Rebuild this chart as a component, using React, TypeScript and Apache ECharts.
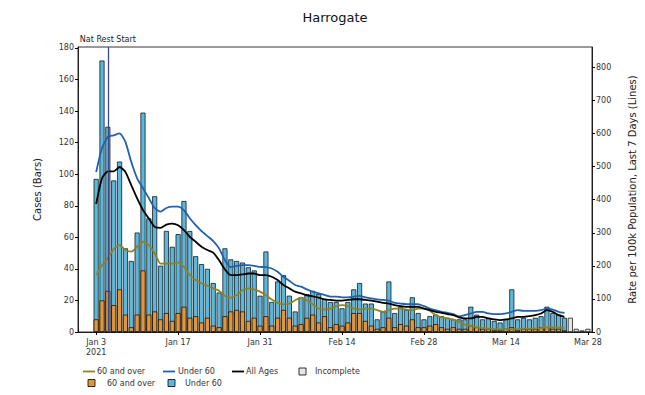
import React, { useEffect, useRef } from 'react';
import * as echarts from 'echarts';

// Day index 0 = 3 Jan 2021
const xTickDays = [0, 14, 28, 42, 56, 70, 84];
const xTickLabels = ['Jan 3\n2021', 'Jan 17', 'Jan 31', 'Feb 14', 'Feb 28', 'Mar 14', 'Mar 28'];
const yLeftTicks = [0, 20, 40, 60, 80, 100, 120, 140, 160, 180];
const yRightTicks = [0, 100, 200, 300, 400, 500, 600, 700, 800];

// Daily cases (bars), days 0..80
const over60Cases = [
  8, 20, 26, 17, 27, 11, 3, 11, 39, 11,
  13, 8, 12, 7, 12, 16, 9, 10, 6, 9,
  4, 3, 10, 13, 14, 13, 7, 9, 4, 10,
  4, 9, 14, 9, 4, 5, 9, 11, 6, 10,
  3, 5, 4, 6, 12, 12, 7, 4, 2, 3,
  9, 3, 5, 4, 8, 3, 3, 4, 5, 3,
  2, 3, 2, 2, 4, 3, 2, 2, 1, 1,
  2, 3, 1, 2, 2, 2, 3, 3, 2, 2,
  1,
];
const under60Cases = [
  89, 152, 104, 79, 81, 42, 42, 52, 100, 61,
  73, 34, 52, 47, 50, 67, 55, 38, 37, 31,
  27, 22, 43, 33, 31, 31, 34, 30, 19, 41,
  15, 23, 22, 14, 9, 17, 15, 15, 18, 11,
  16, 14, 11, 13, 15, 19, 11, 14, 6, 10,
  23, 9, 11, 10, 14, 9, 5, 6, 6, 7,
  7, 5, 6, 6, 12, 8, 6, 7, 6, 5,
  6, 24, 7, 7, 6, 7, 7, 13, 10, 9,
  8,
];
const incompleteStartDay = 81;
const incompleteCases = [9, 2, 1, 2];

// 7-day rates per 100k (lines), days 0..80
const over60Rate = [
  172, 202, 223, 251, 263, 248, 243, 258, 273, 263,
  238, 207, 207, 207, 210, 197, 172, 157, 147, 140,
  132, 125, 109, 104, 111, 126, 132, 129, 122, 111,
  98, 88, 84, 86, 96, 104, 96, 84, 71, 68,
  71, 78, 81, 78, 71, 68, 71, 71, 66, 61,
  66, 71, 71, 68, 66, 71, 71, 64, 51, 44,
  41, 38, 30, 22, 18, 15, 12, 10, 9, 8,
  8, 8, 9, 10, 10, 11, 12, 14, 14, 13,
  12,
];
const under60Rate = [
  484, 556, 590, 595, 601, 575, 514, 465, 435, 405,
  375, 364, 375, 379, 379, 368, 344, 323, 305, 290,
  275, 253, 217, 196, 200, 202, 202, 200, 197, 196,
  192, 182, 167, 155, 142, 137, 129, 122, 117, 112,
  107, 107, 105, 105, 107, 109, 105, 102, 99, 97,
  95, 88, 86, 84, 84, 84, 78, 71, 66, 61,
  58, 54, 47, 51, 56, 61, 61, 56, 54, 54,
  56, 61, 66, 64, 64, 64, 66, 71, 68, 61,
  58,
];
const allAgesRate = [
  387, 465, 486, 486, 499, 484, 444, 404, 369, 343,
  318, 315, 325, 328, 323, 308, 288, 273, 258, 248,
  240, 217, 189, 172, 172, 174, 177, 177, 172, 172,
  167, 157, 142, 132, 122, 117, 111, 108, 104, 99,
  97, 95, 95, 97, 99, 99, 97, 95, 92, 88,
  86, 81, 78, 76, 76, 76, 71, 66, 61, 58,
  54, 51, 44, 41, 41, 46, 46, 41, 38, 36,
  38, 41, 46, 46, 48, 51, 56, 66, 61, 51,
  46,
];
const natRestDay = 2;

const C_ORANGE = '#e1963c';
const C_BLUE_BAR = '#5bb8dc';
const C_OLIVE = '#8c8424';
const C_BLUE_LINE = '#2160ad';
const C_BLACK = '#000000';
const C_INCOMPLETE = '#e6e6e6';
const FONT = 'DejaVu Sans';

export default function App() {
  const ref = useRef<HTMLDivElement>(null);
  useEffect(() => {
    document.body.style.margin = '0';
    const chart = echarts.init(ref.current!, null, { renderer: 'svg' });
    const pairs = (arr: number[], start = 0) => arr.map((v, i) => [start + i, v]);
    // stacked top = over 60 + under 60 (drawn behind the over-60 segment)
    const totals = under60Cases.map((v, i) => v + over60Cases[i]);

    const legendY1 = 371.5;
    const legendY2 = 383;
    const txt = (x: number, y: number, text: string) => ({
      type: 'text', x, y,
      style: { text, fontFamily: FONT, fontSize: 8, fill: '#333', textVerticalAlign: 'middle', verticalAlign: 'middle' },
    });
    const seg = (x1: number, x2: number, y: number, color: string) => ({
      type: 'line', shape: { x1, y1: y, x2, y2: y }, style: { stroke: color, lineWidth: 1.8 },
    });
    const box = (x: number, y: number, color: string) => ({
      type: 'rect', shape: { x, y: y - 3.5, width: 7, height: 7 }, style: { fill: color, stroke: '#000', lineWidth: 0.8 },
    });

    chart.setOption({
      animation: false,
      textStyle: { fontFamily: FONT },
      grid: { left: 78, right: 53, top: 47, bottom: 63, show: true, borderColor: '#000', borderWidth: 0.8, backgroundColor: 'transparent' },
      xAxis: {
        type: 'value', min: -3.1, max: 84.7,
        splitLine: { show: false },
        axisLine: { onZero: false, lineStyle: { color: '#000', width: 0.8 } },
        axisTick: { customValues: xTickDays, length: 3, lineStyle: { color: '#000' } },
        axisLabel: {
          customValues: xTickDays, fontSize: 8, color: '#333', lineHeight: 10, margin: 5,
          formatter: (v: number) => { const i = xTickDays.indexOf(Math.round(v)); return i >= 0 ? xTickLabels[i] : ''; },
        },
      },
      yAxis: [
        {
          type: 'value', min: 0, max: 180.6,
          splitLine: { show: false },
          axisLine: { show: true, onZero: false, lineStyle: { color: '#000', width: 0.8 } },
          axisTick: { show: true, customValues: yLeftTicks, length: 3, lineStyle: { color: '#000' } },
          axisLabel: { customValues: yLeftTicks, fontSize: 8, color: '#333', margin: 4 },
          name: 'Cases (Bars)', nameLocation: 'middle', nameGap: 36,
          nameTextStyle: { fontSize: 10, color: '#222', fontFamily: FONT },
        },
        {
          type: 'value', min: 0, max: 862, position: 'right',
          splitLine: { show: false },
          axisLine: { show: true, onZero: false, lineStyle: { color: '#000', width: 0.8 } },
          axisTick: { show: true, customValues: yRightTicks, length: 3, lineStyle: { color: '#000' } },
          axisLabel: { customValues: yRightTicks, fontSize: 8, color: '#333', margin: 4 },
          name: 'Rate per 100k Population, Last 7 Days (Lines)', nameLocation: 'middle', nameGap: 35, nameRotate: 90,
          nameTextStyle: { fontSize: 10, color: '#222', fontFamily: FONT },
        },
      ],
      series: [
        {
          name: 'Under 60', type: 'bar', barWidth: 5, barGap: '-100%',
          data: pairs(totals),
          itemStyle: { color: C_BLUE_BAR, borderColor: '#000', borderWidth: 0.7 },
          markLine: {
            silent: true, symbol: ['none', 'none'],
            lineStyle: { color: '#3b4a86', width: 1.3, type: 'solid' },
            label: { show: true, position: 'end', formatter: 'Nat Rest Start', fontSize: 8, color: '#222', fontFamily: FONT, distance: 4 },
            data: [{ xAxis: natRestDay }],
          },
        },
        {
          name: '60 and over', type: 'bar', barWidth: 5, barGap: '-100%',
          data: pairs(over60Cases),
          itemStyle: { color: C_ORANGE, borderColor: '#000', borderWidth: 0.7 },
        },
        {
          name: 'Incomplete', type: 'bar', barWidth: 5, barGap: '-100%',
          data: pairs(incompleteCases, incompleteStartDay),
          itemStyle: { color: C_INCOMPLETE, borderColor: '#000', borderWidth: 0.7 },
        },
        {
          name: '60 and over rate', type: 'line', yAxisIndex: 1, symbol: 'none', smooth: 0.2,
          data: pairs(over60Rate), lineStyle: { color: C_OLIVE, width: 1.8 },
        },
        {
          name: 'Under 60 rate', type: 'line', yAxisIndex: 1, symbol: 'none', smooth: 0.2,
          data: pairs(under60Rate), lineStyle: { color: C_BLUE_LINE, width: 1.8 },
        },
        {
          name: 'All Ages', type: 'line', yAxisIndex: 1, symbol: 'none', smooth: 0.2,
          data: pairs(allAgesRate), lineStyle: { color: C_BLACK, width: 1.8 },
        },
      ],
      graphic: [
        { type: 'text', x: 335, y: 17, style: { text: 'Harrogate', fontFamily: FONT, fontSize: 13, fill: '#111', textAlign: 'center', align: 'center', textVerticalAlign: 'middle', verticalAlign: 'middle' } },
        seg(83, 95, legendY1, C_OLIVE), txt(97, legendY1, '60 and over'),
        seg(163, 175, legendY1, C_BLUE_LINE), txt(178, legendY1, 'Under 60'),
        seg(232, 244, legendY1, C_BLACK), txt(246, legendY1, 'All Ages'),
        box(299, legendY1, C_INCOMPLETE), txt(315, legendY1, 'Incomplete'),
        box(88, legendY2, C_ORANGE), txt(107, legendY2, '60 and over'),
        box(168, legendY2, C_BLUE_BAR), txt(185, legendY2, 'Under 60'),
      ],
    });
    return () => chart.dispose();
  }, []);
  return <div ref={ref} style={{ width: 645, height: 395 }} />;
}
